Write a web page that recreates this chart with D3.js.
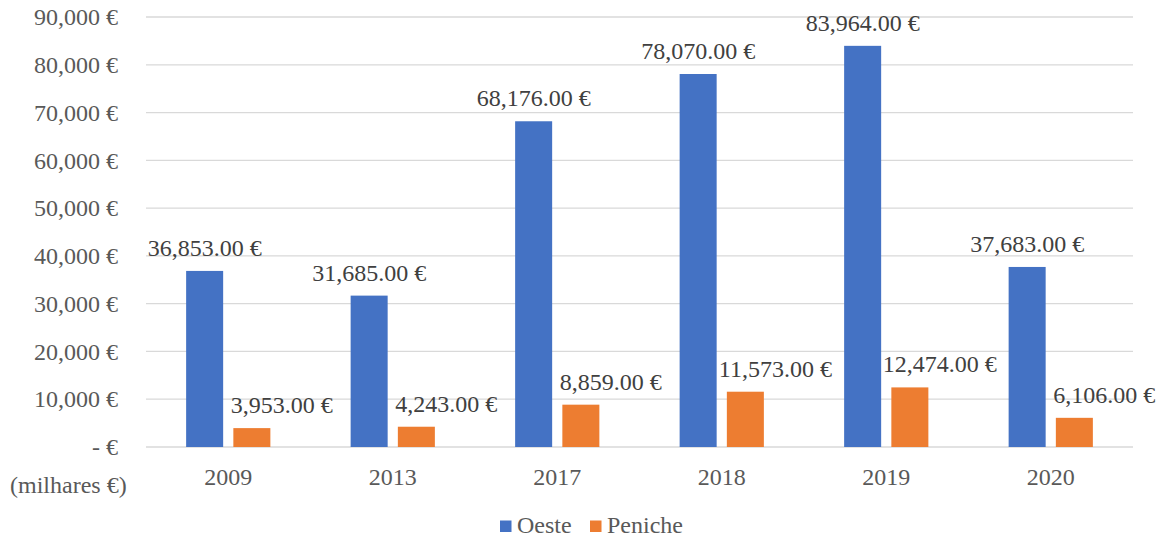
<!DOCTYPE html>
<html><head><meta charset="utf-8">
<script src="https://cdn.jsdelivr.net/npm/d3@7"></script>
</head><body style="margin:0;background:#fff"><svg id="c" width="1162" height="539" style="display:block"></svg>
<script>
const categories = ["2009","2013","2017","2018","2019","2020"];
const seriesNames = ["Oeste","Peniche"];
const oeste = [36853,31685,68176,78070,83964,37683];
const peniche = [3953,4243,8859,11573,12474,6106];
const yTicks = [0,10000,20000,30000,40000,50000,60000,70000,80000,90000];
const colors = ["#4472C4","#ED7D31"];

const FONT = '"Liberation Serif"';
const svg = d3.select("#c");
const L=146,R=1133,T=17,B=447;
const x = d3.scaleBand().domain(categories).range([L,R]).padding(0);
const y = d3.scaleLinear().domain([0,90000]).range([B,T]);
const bw = x.bandwidth();
const barW = bw*0.225, gap = bw*0.062;
const fmtN = d3.format(",.0f"), fmtD = d3.format(",.2f");

function styleText(sel, fill){
  return sel.style("font-family",FONT).attr("font-size",24).attr("fill",fill);
}

// grid
svg.append("g").selectAll("line").data(yTicks).join("line")
  .attr("x1",L).attr("x2",R).attr("y1",d=>y(d)).attr("y2",d=>y(d))
  .attr("stroke","#d9d9d9").attr("stroke-width",1.3);

// y axis labels
const yAxis = d3.axisLeft(y).tickValues(yTicks).tickSize(0).tickPadding(0)
  .tickFormat(d=> d===0 ? "- €" : fmtN(d)+" €");
const ga = svg.append("g").attr("transform","translate(118,0)").call(yAxis);
ga.select(".domain").remove();
ga.attr("font-family",null).attr("font-size",null);
styleText(ga.selectAll("text"),"#595959");

// x axis labels
const xAxis = d3.axisBottom(x).tickSize(0).tickPadding(0);
const gx = svg.append("g").attr("transform","translate(0,468)").call(xAxis);
gx.select(".domain").remove();
gx.attr("font-family",null).attr("font-size",null);
styleText(gx.selectAll("text"),"#595959").attr("dy","0.71em");

styleText(svg.append("text").attr("x",10).attr("y",493),"#595959").text("(milhares €)");

const data = [oeste,peniche];
const offs = [-gap/2-barW, gap/2];
const labelDx = [0, 30];
data.forEach((vals,si)=>{
  const g = svg.append("g");
  g.selectAll("rect").data(vals).join("rect")
    .attr("x",(d,i)=>x(categories[i])+bw/2+offs[si])
    .attr("y",d=>y(d)).attr("width",barW).attr("height",d=>B-y(d))
    .attr("fill",colors[si]);
  styleText(g.selectAll("text").data(vals).join("text"),"#404040")
    .attr("x",(d,i)=>x(categories[i])+bw/2+offs[si]+barW/2+labelDx[si])
    .attr("y",d=>y(d)-15).attr("text-anchor","middle")
    .text(d=>fmtD(d)+" €");
});

// legend
const lg = svg.append("g");
const lx = [500,590];
seriesNames.forEach((n,i)=>{
  lg.append("rect").attr("x",lx[i]).attr("y",520.5).attr("width",11.5).attr("height",11.5).attr("fill",colors[i]);
  styleText(lg.append("text").attr("x",lx[i]+17).attr("y",533),"#595959").text(n);
});
</script></body></html>
